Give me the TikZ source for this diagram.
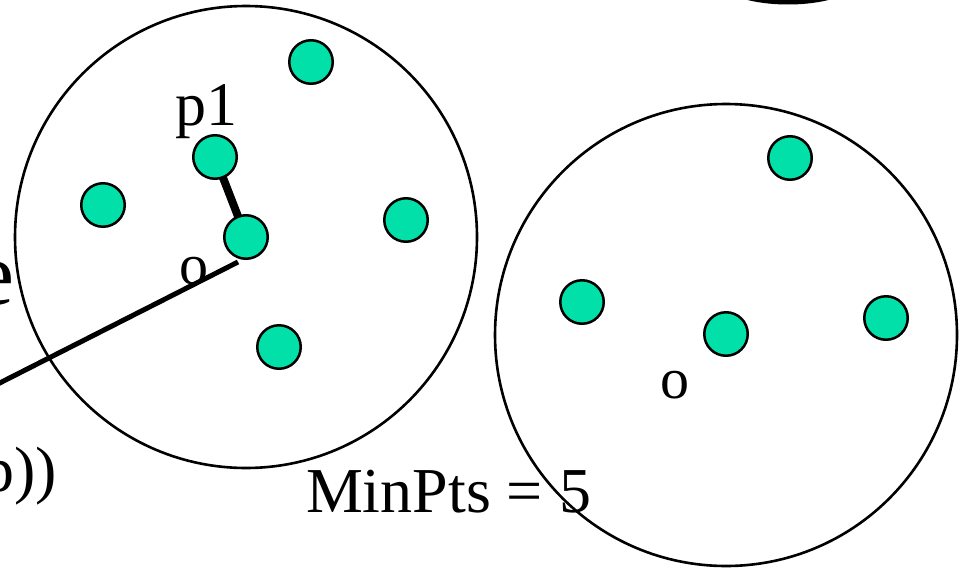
\documentclass[tikz,border=0pt]{standalone}
\usepackage{fontspec}
\setmainfont{Liberation Serif}
\definecolor{dotc}{RGB}{0,224,168}
\tikzset{
  pt/.style={circle,draw=black,fill=dotc,line width=2.5pt,minimum size=43.5pt,inner sep=0pt,outer sep=0pt},
  lbl/.style={inner sep=0pt,outer sep=0pt,font=\fontsize{62}{62}\selectfont},
  ring/.style={draw=black,line width=2.6pt}
}
\begin{document}
\begin{tikzpicture}[x=1pt,y=-1pt]
\useasboundingbox (0,0) rectangle (965,570);
\clip (0,0) rectangle (965,570);
\fill[white] (0,0) rectangle (965,570);
% partial black shape at top right
\fill[black] (788,-20) ellipse [x radius=70pt, y radius=24.5pt];
% circles
\draw[ring] (246,237) circle (231pt);
\draw[ring] (726,335) circle (231pt);
% long line
\coordinate (lstart) at (238,262);
\coordinate (lend) at (-20,393);
\draw[line width=5pt] (lstart) -- (lend);
% dots
\node[pt] (a) at (311,62) {};
\node[pt] (p1) at (215,157) {};
\node[pt] (b) at (103,205) {};
\node[pt] (o1) at (246,237) {};
\node[pt] (c) at (406,220) {};
\node[pt] (d) at (279,347) {};
\node[pt] (e) at (790,158) {};
\node[pt] (f) at (582,302) {};
\node[pt] (o2) at (726,334) {};
\node[pt] (g) at (886,318) {};
\draw[line width=8pt] (o1) -- (p1);
% labels
\node[lbl,anchor=base] (lp1) at (206,125) {p1};
\node[lbl,anchor=base,font=\fontsize{58}{58}\selectfont] (lo1) at (194,284) {o};
\node[lbl,anchor=base,font=\fontsize{58}{58}\selectfont] (lo2) at (675,398) {o};
\node[lbl,anchor=base west,font=\fontsize{64}{64}\selectfont] (mp) at (306,512) {MinPts = 5};
\node[lbl,anchor=base east,font=\fontsize{90}{90}\selectfont] (le) at (14,304) {e};
\node[lbl,anchor=base east,font=\fontsize{64}{64}\selectfont] (lp) at (57,491) {p))};
\end{tikzpicture}
\end{document}
